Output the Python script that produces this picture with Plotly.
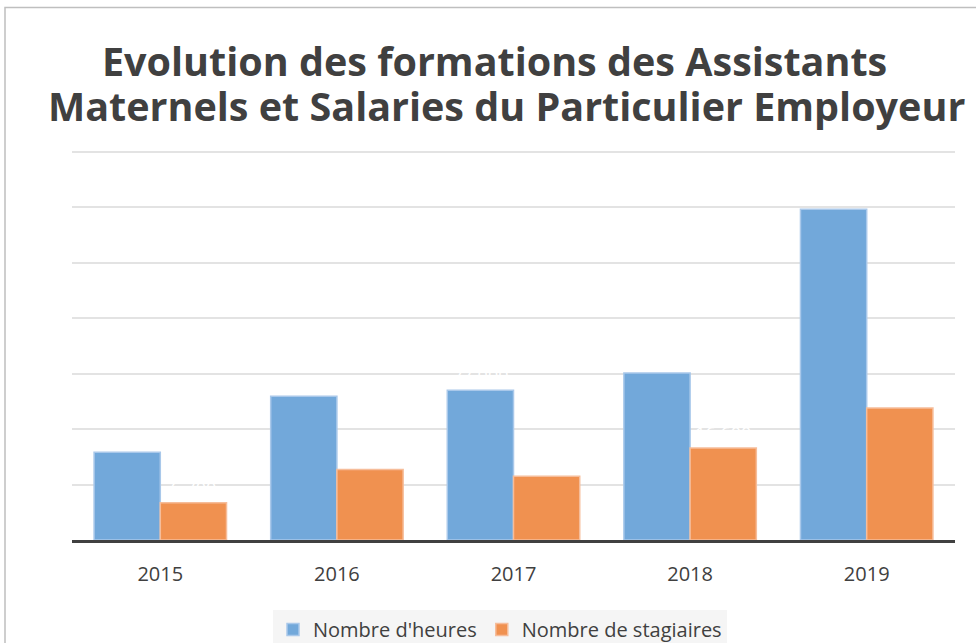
import plotly.graph_objects as go

years = ["2015", "2016", "2017", "2018", "2019"]
heures = [15800, 25900, 27000, 30100, 59600]
stagiaires = [6700, 12700, 11500, 16600, 23800]
series_names = ["Nombre d'heures", "Nombre de stagiaires"]
title_lines = ["Evolution des formations des Assistants",
               "Maternels et Salaries du Particulier Employeur"]

W, H = 976, 643
Y_TOP = 71000
plot_left, plot_right = 72, 955
plot_bottom = 540
px_per_unit = 388 / 70000
plot_top = plot_bottom - Y_TOP * px_per_unit

L = plot_left
R = W - plot_right
T = plot_top
B = H - plot_bottom
pw, ph = W - L - R, H - T - B


def px_x(x):
    return (x - L) / pw


def px_y(y):
    return (T + ph - y) / ph


fig = go.Figure()
fig.add_trace(go.Bar(
    x=years, y=heures, name=series_names[0],
    marker=dict(color="#72a8da", line=dict(color="#a9c8ea", width=1.5)),
    text=[f"{v:,}".replace(",", " ") for v in heures], textposition="outside",
    textfont=dict(color="white", size=18, family="Open Sans"), cliponaxis=False,
))
fig.add_trace(go.Bar(
    x=years, y=stagiaires, name=series_names[1],
    marker=dict(color="#f09150", line=dict(color="#f6bd9a", width=1.5)),
    text=[f"{v:,}".replace(",", " ") for v in stagiaires], textposition="outside",
    textfont=dict(color="white", size=18, family="Open Sans"), cliponaxis=False,
))

fig.update_layout(
    width=W, height=H,
    margin=dict(l=L, r=R, t=T, b=B, autoexpand=False),
    paper_bgcolor="white", plot_bgcolor="white",
    barmode="group", bargap=0.25, bargroupgap=0,
    font=dict(family="Open Sans", color="#404040"),
    xaxis=dict(showline=True, linecolor="#404040", linewidth=3, ticks="",
               tickfont=dict(size=20, color="#404040"), showgrid=False,
               ticklabelstandoff=14),
    yaxis=dict(range=[0, Y_TOP], tickvals=[10000, 20000, 30000, 40000, 50000, 60000, 70000],
               showticklabels=False, showgrid=True,
               gridcolor="#e3e3e3", gridwidth=2, zeroline=False, ticks=""),
    legend=dict(orientation="h", x=px_x(500), xanchor="center", y=px_y(610),
                yanchor="top", bgcolor="#f5f5f5", font=dict(size=20, color="#404040"),
                itemwidth=30),
    showlegend=True,
)

fig.add_annotation(text=title_lines[0], xref="paper", yref="paper",
                   x=px_x(494), y=px_y(62), xanchor="center", yanchor="middle",
                   showarrow=False,
                   font=dict(family="Open Sans", size=39.5, color="#404040", weight="bold"))
fig.add_annotation(text=title_lines[1], xref="paper", yref="paper",
                   x=px_x(506), y=px_y(107), xanchor="center", yanchor="middle",
                   showarrow=False,
                   font=dict(family="Open Sans", size=39.5, color="#404040", weight="bold"))

fig.add_shape(type="rect", xref="paper", yref="paper",
              x0=px_x(5), x1=px_x(990), y0=px_y(660), y1=px_y(8),
              line=dict(color="#bfbfbf", width=1.5), fillcolor="rgba(0,0,0,0)", layer="below")

fig.write_html("out.html", config={"displayModeBar": False},
               post_script="document.body.style.margin='0';document.body.style.overflow='hidden';")
